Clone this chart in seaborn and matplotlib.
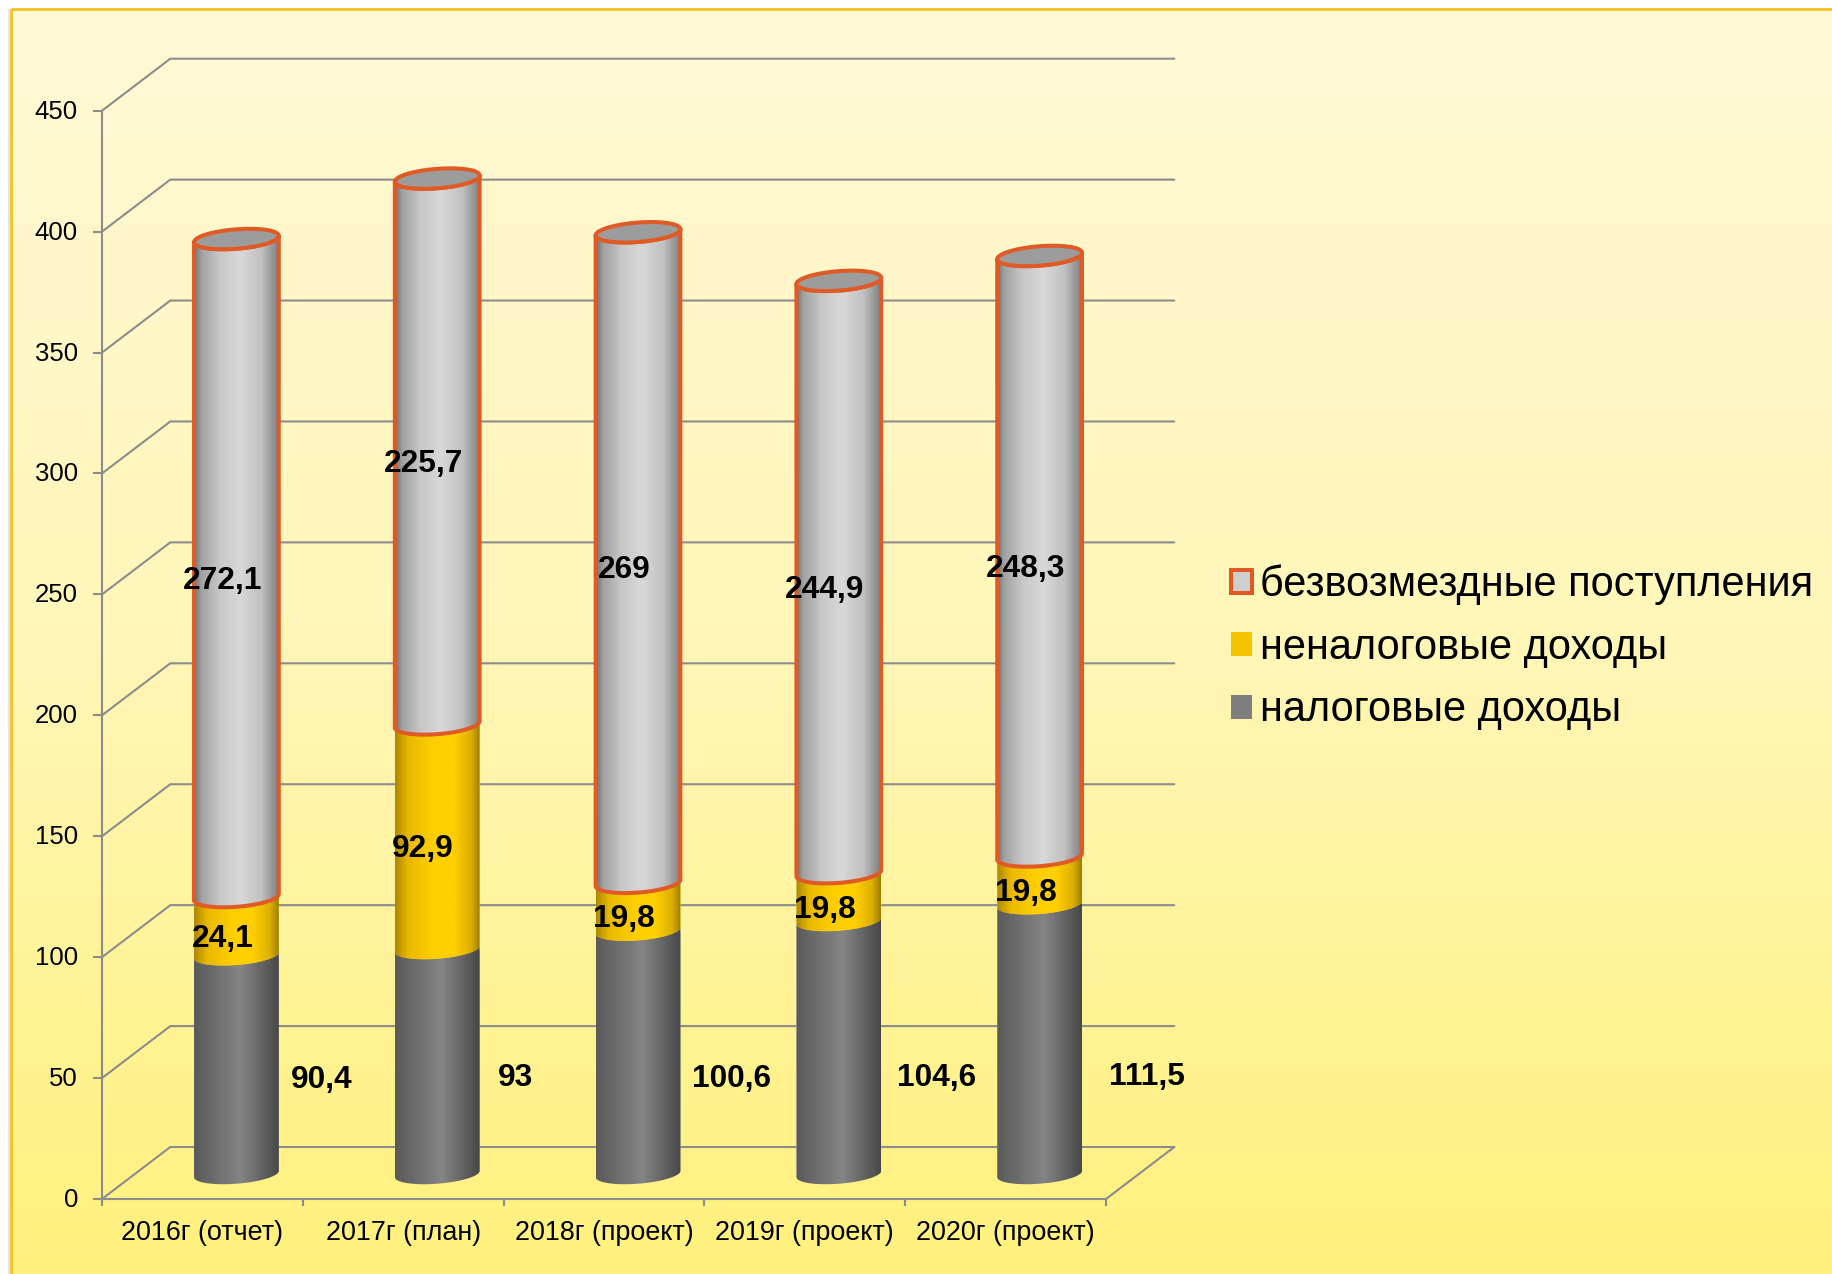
import numpy as np
import pandas as pd
import matplotlib
matplotlib.use("Agg")
import matplotlib.pyplot as plt
from matplotlib.colors import LinearSegmentedColormap
from matplotlib.patches import Patch, PathPatch, Rectangle
from matplotlib.path import Path
from matplotlib.transforms import ScaledTranslation
import seaborn as sns

categories = ["2016г (отчет)", "2017г (план)", "2018г (проект)", "2019г (проект)", "2020г (проект)"]
tax = [90.4, 93, 100.6, 104.6, 111.5]
nontax = [24.1, 92.9, 19.8, 19.8, 19.8]
grants = [272.1, 225.7, 269, 244.9, 248.3]
series_names = ["налоговые доходы", "неналоговые доходы", "безвозмездные поступления"]
y_ticks = [0, 50, 100, 150, 200, 250, 300, 350, 400, 450]

sns.set_style("white")
plt.rcParams["font.family"] = ["Liberation Sans", "DejaVu Sans"]

W, H = 1832, 1274
GREY = "#8C8C8C"
ORANGE = "#E05A26"
fig = plt.figure(figsize=(W / 100, H / 100), dpi=100)

# background panel
bg = fig.add_axes([0, 0, 1, 1], zorder=0)
bg.set_xlim(0, W)
bg.set_ylim(H, 0)
bg.axis("off")
bg_cmap = LinearSegmentedColormap.from_list("bg", ["#FFF9D6", "#FFF6B8", "#FFF17C"])
im = bg.imshow(np.linspace(0, 1, 256)[:, None], extent=(11, W, H, 9), cmap=bg_cmap, aspect="auto", zorder=1)
bg.add_patch(Rectangle((8, 9), 3, H, fc="#E6E6E6", ec="none", zorder=0))
bg.add_patch(Rectangle((11, 9), W + 20, H + 20, fc="none", ec="#F6C324", lw=2.0, zorder=2))
bg.set_xlim(0, W)
bg.set_ylim(H, 0)

# front wall axes and mid-depth axes holding the cylinders
L, B, R, T = 102, 1199, 1106, 110.7
ax = fig.add_axes([L / W, 1 - B / H, (R - L) / W, (B - T) / H], zorder=1)
ax3d = fig.add_axes([(L + 34) / W, 1 - (B - 25) / H, (R - L) / W, (B - T) / H], zorder=2)
for a in (ax, ax3d):
    a.patch.set_alpha(0)

n = len(categories)
ax.set_xlim(-0.5, n - 0.5)
ax.set_ylim(0, 450)
sx = (R - L) / n
sy = (B - T) / 450
depth_x, depth_y = 68.3 / sx, 52 / sy

for s in ("top", "right"):
    ax.spines[s].set_visible(False)
for s in ("left", "bottom"):
    ax.spines[s].set_color(GREY)
    ax.spines[s].set_linewidth(1.5)
ax.set_yticks(y_ticks)
ax.set_xticks(np.arange(n + 1) - 0.5)
ax.set_xticklabels([])
ax.set_xticks(np.arange(n), labels=categories, minor=True)
ax.tick_params(axis="y", which="major", left=True, length=6.5, width=1.5, color=GREY, pad=10.8, labelsize=18.5, labelcolor="black")
ax.tick_params(axis="x", which="major", bottom=True, length=5, width=1.5, color=GREY)
ax.tick_params(axis="x", which="minor", bottom=False, length=0, pad=15, labelsize=19.4, labelcolor="black")
lift = ScaledTranslation(0, 1.5 / 100, fig.dpi_scale_trans)
for t in ax.yaxis.get_major_ticks():
    t.label1.set_transform(t.label1.get_transform() + lift)
x0, x1 = -0.5, n - 0.5
for v in y_ticks:
    ax.plot([x0, x0 + depth_x, x1 + depth_x], [v, v + depth_y, v + depth_y], color=GREY, lw=1.5, clip_on=False, zorder=1, solid_joinstyle="miter")
ax.plot([x1, x1 + depth_x], [0, depth_y], color=GREY, lw=1.5, clip_on=False, zorder=1)

# stacked cylinders: seaborn draws cumulative heights, tallest first
cum = np.cumsum([tax, nontax, grants], axis=0)
df = pd.DataFrame({
    "year": categories * 3,
    "series": np.repeat(series_names, n),
    "cum": cum.ravel(),
})
hue_order = series_names[::-1]
flat = {"налоговые доходы": "#7F7F7F", "неналоговые доходы": "#F5C400", "безвозмездные поступления": "#CFCFCF"}
sns.barplot(data=df, x="year", y="cum", hue="series", hue_order=hue_order, order=categories,
            dodge=False, palette=flat, width=85 / sx, saturation=1, legend=False, ax=ax3d, errorbar=None)
ax3d.set_xlim(-0.5, n - 0.5)
ax3d.set_ylim(0, 450)
ax3d.axis("off")

gradients = {
    "налоговые доходы": LinearSegmentedColormap.from_list("t", [(0, "#5A5A5A"), (0.55, "#858585"), (1, "#484848")]),
    "неналоговые доходы": LinearSegmentedColormap.from_list("n", [(0, "#AE8800"), (0.15, "#E8B800"), (0.45, "#FFCF00"), (0.7, "#FFCF00"), (0.9, "#DCAE00"), (1, "#9E7E00")]),
    "безвозмездные поступления": LinearSegmentedColormap.from_list("g", [(0, "#6F6F6F"), (0.08, "#A0A0A0"), (0.3, "#C8C8C8"), (0.55, "#D8D8D8"), (0.8, "#C0C0C0"), (0.95, "#909090"), (1, "#7A7A7A")]),
}
TILT = np.deg2rad(4.5)
MINOR = 9.7


def ellipse(xc, half_w, level, t):
    ax_px = half_w * sx
    px = ax_px * np.cos(t) * np.cos(TILT) - MINOR * np.sin(t) * np.sin(TILT)
    py = ax_px * np.cos(t) * np.sin(TILT) + MINOR * np.sin(t) * np.cos(TILT)
    return np.column_stack([xc + px / sx, level + py / sy])


lower = np.linspace(np.pi, 2 * np.pi, 40)
ramp = np.linspace(0, 1, 200)[None, :]
containers = dict(zip(hue_order, ax3d.containers))
for k, name in enumerate(series_names):
    base = np.zeros(n) if k == 0 else cum[k - 1]
    for i, bar in enumerate(containers[name]):
        left, w, top = bar.get_x(), bar.get_width(), bar.get_height()
        xc = left + w / 2
        pts = np.vstack([ellipse(xc, w / 2, base[i], lower), ellipse(xc, w / 2, top, lower[::-1])])
        path = Path(np.vstack([pts, pts[0]]), closed=True)
        clip = PathPatch(path, fc="none", ec="none", transform=ax3d.transData, clip_on=False)
        ax3d.add_patch(clip)
        bar.set_clip_path(clip)
        img = ax3d.imshow(ramp, extent=(left, left + w, base[i] - 20, top + 20), cmap=gradients[name],
                          aspect="auto", zorder=2 + k, vmin=0, vmax=1)
        img.set_clip_box(fig.bbox)
        img.set_clip_path(clip)
        if k == 2:
            outline = PathPatch(path, fc="none", ec=ORANGE, lw=2.9, zorder=6, clip_on=False, joinstyle="round")
            ax3d.add_patch(outline)
            cap = ellipse(xc, w / 2, top, np.linspace(0, 2 * np.pi, 80))
            ax3d.add_patch(PathPatch(Path(cap, closed=True), fc="#9C9C9C", ec=ORANGE, lw=2.9, zorder=7, clip_on=False))
ax3d.set_xlim(-0.5, n - 0.5)
ax3d.set_ylim(0, 450)

# data labels (offsets in pixels from the middle of each segment)
tax_dx = [85, 78, 93, 98, 107]
tax_dy = [15.5, 16, 26.5, 30, 37.5]
stack_dx = -14
stack_dy = 12.5


def label(i, mid, v, dx, dy):
    ax3d.annotate(f"{v:g}".replace(".", ","), xy=(i, mid), xytext=(dx * 0.72, -dy * 0.72), textcoords="offset points",
                  ha="center", va="center", fontsize=22.8, fontweight="bold", color="black", zorder=10, annotation_clip=False)


for i in range(n):
    label(i, tax[i] / 2, tax[i], tax_dx[i], tax_dy[i])
    label(i, cum[0][i] + nontax[i] / 2, nontax[i], stack_dx, stack_dy)
    label(i, cum[1][i] + grants[i] / 2, grants[i], stack_dx, stack_dy)

handles = [
    Patch(fc="#CFCFCF", ec=ORANGE, lw=2.9),
    Patch(fc="#F5C400", ec="none"),
    Patch(fc="#7F7F7F", ec="none"),
]
fig.legend(handles, hue_order, loc="center left", bbox_to_anchor=(1231 / W, 1 - 647.5 / H), frameon=False,
           fontsize=29.9, labelcolor="black", handlelength=0.5, handleheight=0.5, handletextpad=0.19,
           labelspacing=0.545, borderpad=0, borderaxespad=0)

fig.savefig("out.png", dpi=100)
